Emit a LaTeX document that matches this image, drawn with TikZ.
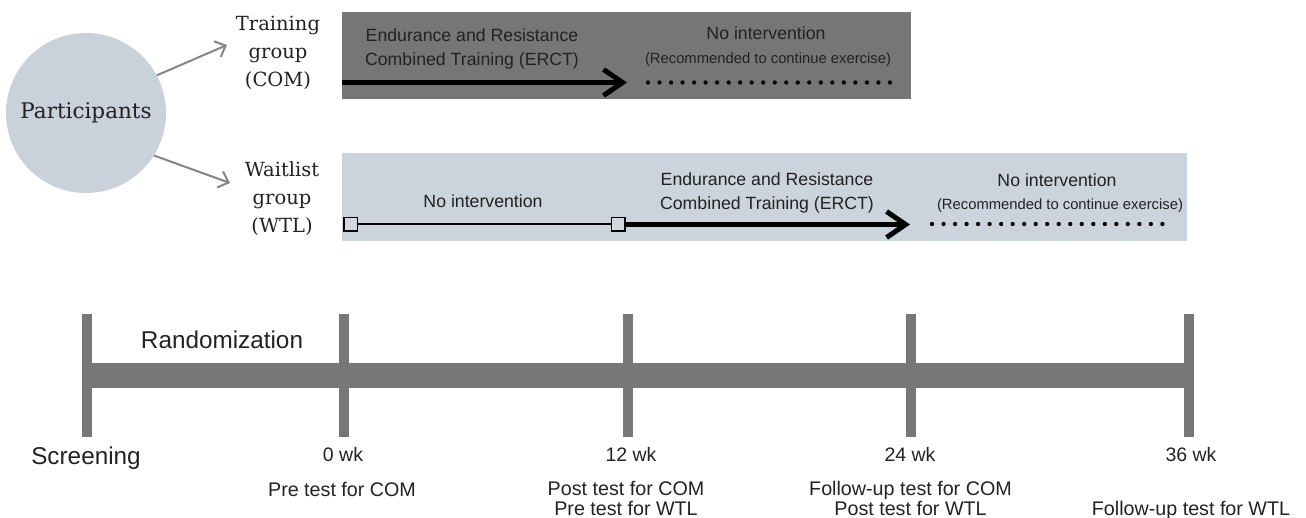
\documentclass[tikz,border=0pt]{standalone}
\usepackage{fontspec}
\setmainfont{Liberation Sans}
\newfontfamily\slabfont{DejaVu Serif}
\usetikzlibrary{arrows.meta}
\definecolor{darkbox}{HTML}{767676}
\definecolor{lightbox}{HTML}{CBD3DC}
\definecolor{circfill}{HTML}{C9D1DA}
\definecolor{tlgray}{HTML}{777777}
\definecolor{arrgray}{HTML}{858585}
\definecolor{sqfill}{HTML}{D3D8DE}
\definecolor{txt}{HTML}{222222}
\begin{document}
\begin{tikzpicture}[x=1pt,y=-1pt,
  grouplbl/.style={font=\slabfont\fontsize{19.5}{28}\selectfont, text=txt, align=center, inner sep=0pt},
  boxtxt/.style={font=\fontsize{17.7}{24.5}\selectfont, text=txt, align=center, inner sep=0pt},
  smalltxt/.style={font=\fontsize{14.8}{18}\selectfont, text=txt, inner sep=0pt, text height=10.7pt, text depth=0pt},
  onetxt/.style={font=\fontsize{17.7}{20}\selectfont, text=txt, inner sep=0pt, text height=12.7pt, text depth=0pt},
  biglbl/.style={font=\fontsize{24.3}{28}\selectfont, text=txt, inner sep=0pt, text height=17.5pt, text depth=0pt},
  wklbl/.style={font=\fontsize{19.5}{22}\selectfont, text=txt, inner sep=0pt, text height=14pt, text depth=0pt},
  testlbl/.style={font=\fontsize{19.7}{20}\selectfont, text=txt, align=center, inner sep=0pt},
  grayarrow/.style={draw=arrgray, line width=2pt, -{Straight Barb[length=9pt,width=17pt]}},
  thickarrow/.style={draw=black, line width=5pt, -{Straight Barb[length=19pt,width=26pt]}},
  dotline/.style={draw=black, line width=4.3pt, line cap=round, dash pattern=on 0pt off 11.52pt},
  sqbox/.style={draw=black, fill=sqfill, line width=1.5pt, minimum size=13.5pt, inner sep=0pt},
  tickbar/.style={fill=tlgray, minimum width=10pt, minimum height=123pt, inner sep=0pt}
]
\useasboundingbox (0,0) rectangle (1306,518);

% participants
\node[circle, fill=circfill, minimum size=160pt, inner sep=0pt,
      font=\slabfont\fontsize{21.5}{24}\selectfont, text=txt] (part) at (86,113) {Participants};
\node[grouplbl] (com) at (278,53) {Training\\group\\(COM)};
\node[grouplbl] (wtl) at (282,199) {Waitlist\\group\\(WTL)};
\coordinate (comin) at (227,45);
\coordinate (wtlin) at (230,183);
\draw[grayarrow] (part.28) -- (comin);
\draw[grayarrow] (part.-32) -- (wtlin);

% training group box
\node[fill=darkbox, minimum width=569pt, minimum height=87pt, inner sep=0pt, anchor=north west] (combox) at (342,12) {};
\node[boxtxt] (comerct) at (472,49) {Endurance and Resistance\\Combined Training (ERCT)};
\node[onetxt] (comno) at (766,33) {No intervention};
\node[smalltxt] (comrec) at (768,58) {(Recommended to continue exercise)};
\coordinate (comstart) at (342,82.5);
\coordinate (comend) at (627,82.5);
\draw[thickarrow] (comstart) -- (comend);
\coordinate (comd1) at (648,82.5);
\coordinate (comd2) at (890.2,82.5);
\draw[dotline] (comd1) -- (comd2);

% waitlist box
\node[fill=lightbox, minimum width=845pt, minimum height=88pt, inner sep=0pt, anchor=north west] (wtlbox) at (342,153) {};
\node[onetxt] (wtlno) at (483,201) {No intervention};
\node[boxtxt] (wtlerct) at (767,193) {Endurance and Resistance\\Combined Training (ERCT)};
\node[onetxt] (wtlno2) at (1057,180) {No intervention};
\node[smalltxt] (wtlrec) at (1060,204) {(Recommended to continue exercise)};
\node[sqbox] (sq1) at (350.5,224.5) {};
\node[sqbox] (sq2) at (618,224.5) {};
\draw[line width=2pt] (sq1) -- (sq2);
\coordinate (wtlend) at (910,224.5);
\draw[thickarrow] (sq2.east) -- (wtlend);
\coordinate (wtld1) at (932,224);
\coordinate (wtld2) at (1173.2,224);
\draw[dotline] (wtld1) -- (wtld2);

% timeline
\node[tickbar] (k0) at (87,375.5) {};
\node[tickbar] (k1) at (344,375.5) {};
\node[tickbar] (k2) at (628,375.5) {};
\node[tickbar] (k3) at (911,375.5) {};
\node[tickbar] (k4) at (1189,375.5) {};
\draw[tlgray, line width=25pt] (k0.center) -- (k4.center);

\node[biglbl] (rand) at (222,340) {Randomization};
\node[biglbl] (scr) at (86,455.5) {Screening};
\node[wklbl] (w0) at (343,454.5) {0 wk};
\node[wklbl] (w12) at (631,454.5) {12 wk};
\node[wklbl] (w24) at (910,454.5) {24 wk};
\node[wklbl] (w36) at (1191,454.5) {36 wk};
\node[testlbl, text height=14.2pt, text depth=0pt] (t0) at (342,489) {Pre test for COM};
\node[testlbl] (t12) at (626,498) {Post test for COM\\Pre test for WTL};
\node[testlbl] (t24) at (910.5,498) {Follow-up test for COM\\Post test for WTL};
\node[testlbl, text height=14.2pt, text depth=0pt] (t36) at (1191,508) {Follow-up test for WTL};
\end{tikzpicture}
\end{document}
